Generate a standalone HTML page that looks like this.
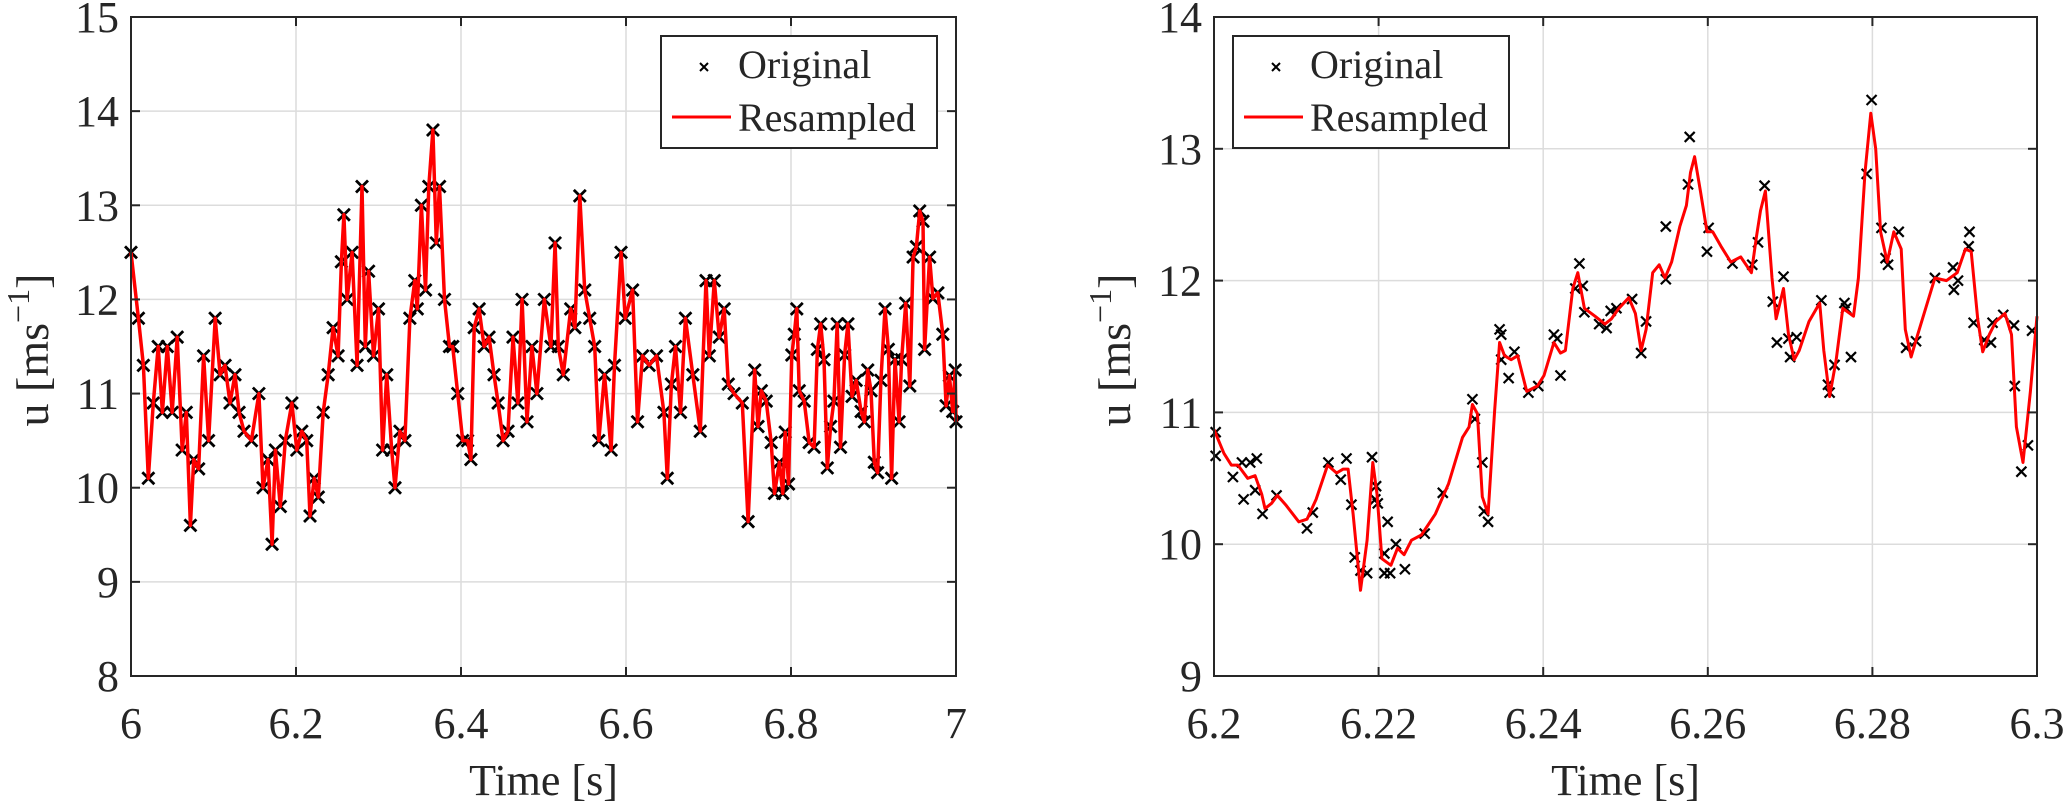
<!DOCTYPE html>
<html><head><meta charset="utf-8"><style>
html,body{margin:0;padding:0;background:#fff;}
svg{display:block;}
svg text{font-family:"Liberation Serif","DejaVu Serif","Times New Roman",serif;fill:#262626;}
</style></head><body>
<svg id="fig" width="2067" height="806" viewBox="0 0 2067 806" xmlns="http://www.w3.org/2000/svg" font-family="Liberation Serif, DejaVu Serif, serif"></svg>
<script>
// ---------- Left panel data ----------
const leftTime = [6.000,6.009,6.015,6.021,6.027,6.033,6.038,6.044,6.050,6.056,6.062,6.067,6.072,6.076,6.082,6.088,6.094,6.102,6.108,6.114,6.120,6.126,6.131,6.137,6.146,6.155,6.160,6.166,6.171,6.175,6.181,6.187,6.195,6.201,6.207,6.213,6.217,6.222,6.227,6.233,6.239,6.245,6.251,6.255,6.258,6.262,6.268,6.274,6.280,6.284,6.288,6.294,6.300,6.305,6.310,6.316,6.320,6.326,6.332,6.338,6.344,6.347,6.352,6.357,6.361,6.366,6.370,6.374,6.380,6.386,6.390,6.396,6.402,6.408,6.412,6.416,6.422,6.428,6.434,6.440,6.445,6.451,6.457,6.463,6.469,6.474,6.480,6.486,6.492,6.501,6.509,6.514,6.518,6.524,6.533,6.538,6.544,6.550,6.556,6.562,6.567,6.574,6.582,6.586,6.594,6.599,6.608,6.614,6.620,6.628,6.637,6.646,6.650,6.655,6.660,6.666,6.672,6.681,6.690,6.697,6.701,6.707,6.713,6.719,6.724,6.731,6.741,6.748,6.756,6.760,6.764,6.770,6.776,6.780,6.786,6.790,6.793,6.797,6.801,6.804,6.807,6.810,6.816,6.822,6.828,6.832,6.836,6.840,6.844,6.848,6.852,6.856,6.860,6.865,6.869,6.874,6.879,6.885,6.889,6.893,6.897,6.901,6.905,6.909,6.914,6.918,6.922,6.926,6.931,6.934,6.939,6.944,6.948,6.952,6.956,6.960,6.962,6.968,6.972,6.978,6.984,6.988,6.992,6.996,6.999,7.000];
const leftU = [12.5,11.8,11.3,10.1,10.9,11.5,10.8,11.5,10.8,11.6,10.4,10.8,9.6,10.3,10.2,11.4,10.5,11.8,11.2,11.3,10.9,11.2,10.8,10.6,10.5,11.0,10.0,10.3,9.4,10.4,9.8,10.5,10.9,10.4,10.6,10.5,9.7,10.1,9.9,10.8,11.2,11.7,11.4,12.4,12.9,12.0,12.5,11.3,13.2,11.5,12.3,11.4,11.9,10.4,11.2,10.4,10.0,10.6,10.5,11.8,12.2,11.9,13.0,12.1,13.2,13.8,12.6,13.2,12.0,11.5,11.5,11.0,10.5,10.5,10.3,11.7,11.9,11.5,11.6,11.2,10.9,10.5,10.6,11.6,10.9,12.0,10.7,11.5,11.0,12.0,11.5,12.6,11.5,11.2,11.9,11.7,13.1,12.1,11.8,11.5,10.5,11.2,10.4,11.3,12.5,11.8,12.1,10.7,11.4,11.3,11.4,10.8,10.1,11.1,11.5,10.8,11.8,11.2,10.6,12.2,11.4,12.2,11.6,11.9,11.1,11.0,10.9,9.64,11.25,10.65,11.03,10.92,10.48,9.94,10.27,9.94,10.59,10.04,11.41,11.63,11.9,11.03,10.92,10.48,10.43,11.47,11.74,11.36,10.21,10.65,10.92,11.74,10.43,11.41,11.74,10.97,11.14,10.81,10.7,11.25,11.03,10.27,10.16,11.14,11.9,11.47,10.1,11.36,10.7,11.36,11.96,11.08,12.45,12.56,12.94,12.83,11.47,12.45,12.01,12.07,11.63,10.87,11.19,10.81,11.25,10.7];
const leftXTicks = [6,6.2,6.4,6.6,6.8,7];
const leftXTickLabels = ["6","6.2","6.4","6.6","6.8","7"];
const leftYTicks = [8,9,10,11,12,13,14,15];
const leftYTickLabels = ["8","9","10","11","12","13","14","15"];

// ---------- Right panel data ----------
const rightLineTime = [6.2,6.2012,6.2021,6.2029,6.2041,6.205,6.2058,6.2062,6.207,6.2077,6.2087,6.2103,6.2113,6.2124,6.2138,6.2149,6.2157,6.2163,6.2169,6.2178,6.2186,6.2193,6.2198,6.2204,6.2215,6.2223,6.2231,6.224,6.2252,6.2269,6.2285,6.2302,6.231,6.2314,6.232,6.2326,6.2333,6.2341,6.2347,6.2353,6.2361,6.2369,6.238,6.2393,6.2401,6.2413,6.2421,6.2427,6.2436,6.2442,6.245,6.2463,6.2475,6.2483,6.2492,6.2504,6.2512,6.2519,6.2525,6.2533,6.2541,6.2548,6.2556,6.2566,6.2574,6.2579,6.2584,6.2591,6.2599,6.2606,6.2616,6.2628,6.264,6.2653,6.2659,6.2664,6.267,6.2678,6.2683,6.2692,6.2698,6.2705,6.2711,6.2723,6.2736,6.2741,6.2748,6.2756,6.2764,6.2777,6.2783,6.2791,6.2798,6.2804,6.281,6.2818,6.2826,6.2835,6.284,6.2847,6.2855,6.2876,6.289,6.2903,6.2913,6.292,6.2928,6.2934,6.2942,6.295,6.2961,6.2969,6.2975,6.2983,6.2992,6.3];
const rightLineU = [10.87,10.69,10.6,10.6,10.5,10.52,10.38,10.27,10.31,10.37,10.3,10.17,10.19,10.34,10.6,10.54,10.57,10.57,10.23,9.65,10.03,10.62,10.38,9.89,9.84,9.97,9.92,10.03,10.07,10.23,10.46,10.81,10.89,11.06,10.99,10.36,10.23,11.01,11.53,11.43,11.4,11.43,11.16,11.2,11.28,11.53,11.45,11.47,11.94,12.06,11.79,11.73,11.67,11.71,11.79,11.87,11.75,11.47,11.63,12.06,12.12,12.02,12.14,12.41,12.57,12.82,12.94,12.68,12.37,12.37,12.26,12.14,12.18,12.06,12.33,12.53,12.68,12.02,11.71,11.94,11.59,11.4,11.47,11.69,11.83,11.47,11.12,11.4,11.79,11.73,12.02,12.82,13.27,13.0,12.37,12.14,12.37,12.24,11.63,11.42,11.59,12.02,12.0,12.06,12.24,12.22,11.71,11.46,11.59,11.69,11.75,11.59,10.89,10.62,11.16,11.73];
const rightMarkTime = [6.2002,6.2002,6.2023,6.2036,6.2034,6.2044,6.2052,6.205,6.2059,6.2076,6.2113,6.212,6.2139,6.2154,6.2161,6.2167,6.2171,6.2178,6.2186,6.2192,6.2197,6.2196,6.2199,6.2207,6.2211,6.2207,6.2214,6.2221,6.2232,6.2256,6.2278,6.2314,6.2317,6.2326,6.2328,6.2333,6.2347,6.2349,6.2349,6.2358,6.2365,6.2382,6.2394,6.2413,6.2417,6.2421,6.2439,6.2444,6.2448,6.245,6.2468,6.2477,6.2482,6.2489,6.2508,6.2519,6.2525,6.2549,6.2549,6.2576,6.2578,6.2599,6.2601,6.263,6.2654,6.2661,6.2669,6.2679,6.2684,6.2692,6.2698,6.27,6.2708,6.2738,6.2746,6.2748,6.2754,6.2766,6.2768,6.2774,6.2793,6.2799,6.2811,6.2816,6.2819,6.2832,6.2841,6.2853,6.2876,6.2898,6.2899,6.2904,6.2917,6.2918,6.2923,6.2936,6.2944,6.2946,6.2959,6.2972,6.2973,6.2981,6.2989,6.2994];
const rightMarkU = [10.85,10.67,10.51,10.34,10.62,10.62,10.65,10.41,10.23,10.37,10.12,10.24,10.62,10.49,10.65,10.3,9.9,9.8,9.78,10.66,10.44,10.34,10.31,9.93,10.17,9.78,9.78,10.0,9.81,10.08,10.39,11.1,10.95,10.62,10.25,10.17,11.63,11.59,11.4,11.26,11.46,11.15,11.2,11.59,11.56,11.28,11.94,12.13,11.96,11.76,11.67,11.64,11.77,11.79,11.86,11.45,11.69,12.41,12.01,12.73,13.09,12.22,12.4,12.13,12.12,12.29,12.72,11.84,11.53,12.03,11.56,11.42,11.57,11.85,11.21,11.15,11.36,11.83,11.79,11.42,12.81,13.37,12.4,12.17,12.12,12.37,11.49,11.54,12.02,12.1,11.93,12.0,12.26,12.37,11.68,11.55,11.53,11.68,11.74,11.66,11.2,10.55,10.75,11.62];
const rightXTicks = [6.2,6.22,6.24,6.26,6.28,6.3];
const rightXTickLabels = ["6.2","6.22","6.24","6.26","6.28","6.3"];
const rightYTicks = [9,10,11,12,13,14];
const rightYTickLabels = ["9","10","11","12","13","14"];

const NS = "http://www.w3.org/2000/svg";
const FONT = '"Liberation Serif", "DejaVu Serif", serif';
const svg = document.getElementById('fig');
function mk(tag, attrs, parent){
  const e = document.createElementNS(NS, tag);
  for (const k in attrs) e.setAttribute(k, attrs[k]);
  if (tag === 'text') e.style.fontFamily = FONT;
  (parent||svg).appendChild(e);
  return e;
}

function panel(p){
  const g = mk('g', {});
  
  
  const sx = v => p.x0 + (v - p.xmin) / (p.xmax - p.xmin) * (p.x1 - p.x0);
  const sy = v => p.y1 - (v - p.ymin) / (p.ymax - p.ymin) * (p.y1 - p.y0);
  p.xt.forEach((t,i) => {
    if (i > 0 && i < p.xt.length-1) {
      const l = mk('line', {x1:sx(t), x2:sx(t), y1:p.y0, y2:p.y1, stroke:'#dcdcdc', 'stroke-width':1.5}, g);
      
      
    }
  });
  p.yt.forEach((t,i) => {
    if (i > 0 && i < p.yt.length-1) {
      const l = mk('line', {x1:p.x0, x2:p.x1, y1:sy(t), y2:sy(t), stroke:'#dcdcdc', 'stroke-width':1.5}, g);
      
      
    }
  });
  let d = '';
  p.lt.forEach((t,i) => { d += (i ? 'L' : 'M') + sx(t).toFixed(1) + ',' + sy(p.lu[i]).toFixed(1); });
  const mg = mk('g', {stroke:'#000', 'stroke-width':p.mw}, g);
  
  
  const s = p.ms;
  p.mt.forEach((t,i) => {
    const x = sx(t), y = sy(p.mu[i]);
    const m = mk('path', {d:`M${x-s},${y-s}L${x+s},${y+s}M${x-s},${y+s}L${x+s},${y-s}`}, mg);
    
    
  });
  const line = mk('path', {d:d, fill:'none', stroke:'#ff0000', 'stroke-width':p.lw, 'stroke-linejoin':'round'}, g);
  
  
  const fr = mk('rect', {x:p.x0, y:p.y0, width:p.x1-p.x0, height:p.y1-p.y0, fill:'none', stroke:'#262626', 'stroke-width':2}, g);
  
  
  p.xt.forEach((t,i) => {
    const x = sx(t);
    mk('line', {x1:x, x2:x, y1:p.y1, y2:p.y1-9, stroke:'#262626', 'stroke-width':2}, g);
    mk('line', {x1:x, x2:x, y1:p.y0, y2:p.y0+9, stroke:'#262626', 'stroke-width':2}, g);
    const tx = mk('text', {x:x, y:738, 'font-size':44, 'text-anchor':'middle'}, g);
    tx.textContent = p.xl[i];
    
    
  });
  p.yt.forEach((t,i) => {
    const y = sy(t);
    mk('line', {x1:p.x0, x2:p.x0+9, y1:y, y2:y, stroke:'#262626', 'stroke-width':2}, g);
    mk('line', {x1:p.x1, x2:p.x1-9, y1:y, y2:y, stroke:'#262626', 'stroke-width':2}, g);
    const tx = mk('text', {x:p.x0-12, y:y+15, 'font-size':44, 'text-anchor':'end'}, g);
    tx.textContent = p.yl[i];
    
    
  });
  const xt = mk('text', {x:(p.x0+p.x1)/2, y:795, 'font-size':44, 'text-anchor':'middle'}, g);
  xt.textContent = 'Time [s]';
  
  
  const yt = mk('text', {x:0, y:0, 'font-size':46, 'text-anchor':'middle', transform:`translate(${p.ylx},350) rotate(-90)`}, g);
  yt.innerHTML = 'u [ms<tspan dy="-19" font-size="32">−1</tspan><tspan dy="19">]</tspan>';
  
  
  const L = p.leg;
  const lg = mk('g', {}, g);
  
  
  mk('rect', {x:L.x, y:36, width:L.w, height:112, fill:'#fff', stroke:'#262626', 'stroke-width':2}, lg);
  const e1 = mk('g', {}, lg);
  
  
  const mx = L.x + 43, my = 67, ms = 4;
  mk('path', {d:`M${mx-ms},${my-ms}L${mx+ms},${my+ms}M${mx-ms},${my+ms}L${mx+ms},${my-ms}`, stroke:'#000', 'stroke-width':2}, e1);
  const t1 = mk('text', {x:L.x+77, y:78, 'font-size':40}, e1);
  t1.textContent = 'Original';
  const e2 = mk('g', {}, lg);
  
  
  mk('line', {x1:L.x+11, x2:L.x+70, y1:117, y2:117, stroke:'#ff0000', 'stroke-width':3}, e2);
  const t2 = mk('text', {x:L.x+77, y:131, 'font-size':40}, e2);
  t2.textContent = 'Resampled';
}

panel({name:'left-chart', x0:131, x1:956, y0:17, y1:676, xmin:6, xmax:7, ymin:8, ymax:15,
  xt:leftXTicks, xl:leftXTickLabels, yt:leftYTicks, yl:leftYTickLabels,
  lt:leftTime, lu:leftU, mt:leftTime, mu:leftU, ylx:48, leg:{x:661, w:276}, ms:6, mw:2.8, lw:3.5});
panel({name:'right-chart', x0:1214, x1:2037, y0:17, y1:676, xmin:6.2, xmax:6.3, ymin:9, ymax:14,
  xt:rightXTicks, xl:rightXTickLabels, yt:rightYTicks, yl:rightYTickLabels,
  lt:rightLineTime, lu:rightLineU, mt:rightMarkTime, mu:rightMarkU, ylx:1130, leg:{x:1233, w:276}, ms:5, mw:2.2, lw:3});
</script>
</body></html>
